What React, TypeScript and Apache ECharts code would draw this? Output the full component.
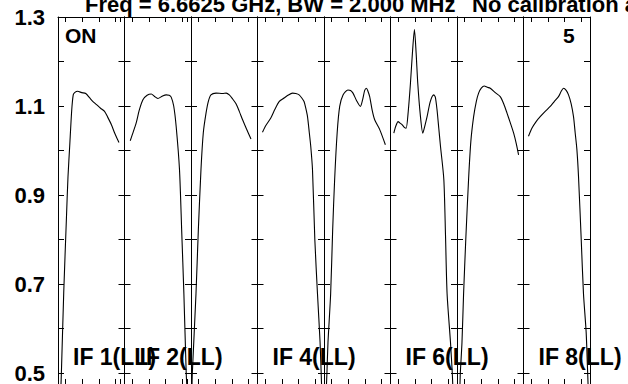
import React, { useEffect, useRef } from "react";
import * as echarts from "echarts";

// ---- data ----
const panelLabels = ["IF 1(LL)", "IF 2(LL)", "", "IF 4(LL)", "", "IF 6(LL)", "", "IF 8(LL)"];
const yTickValues = [0.5, 0.6, 0.7, 0.8, 0.9, 1.0, 1.1, 1.2, 1.3];
const yLabelValues = [0.5, 0.7, 0.9, 1.1, 1.3];
const xTickPct = [11.5, 36.5, 61.5, 86.5];
const xExtraTickPct = [94, 95, null, null, null, null, null, null];
const titleMain = "Freq = 6.6625 GHz, BW = 2.000 MHz";
const titleNote = "No calibration applied";
const cornerLeft = "ON";
const cornerRight = "5";

// channel position (% of panel) and amplitude for each IF
const if1Chan = [4.4, 5.1, 8.6, 12.6, 15, 17.6, 20.6, 22.9, 25, 29.6, 35.6, 41.7, 47.7, 52.6, 58, 64, 70, 74.7, 80.3, 85, 91.7];
const if1Amp = [0.47, 0.5, 0.68, 0.845, 0.94, 1.01, 1.09, 1.125, 1.13, 1.133, 1.13, 1.128, 1.118, 1.11, 1.103, 1.095, 1.088, 1.075, 1.058, 1.04, 1.018];
const if2Chan = [8.6, 11.6, 17.6, 22.1, 27.7, 34, 40.3, 44.8, 50.2, 56.7, 62.7, 67.2, 70.2, 74, 77.7, 82.7, 86, 89.3, 92.8, 93.8];
const if2Amp = [1.022, 1.035, 1.062, 1.09, 1.114, 1.124, 1.127, 1.122, 1.117, 1.122, 1.125, 1.124, 1.12, 1.1, 1.054, 0.957, 0.82, 0.678, 0.5, 0.47];
const if3Chan = [1.5, 2, 7.5, 11, 15, 18.5, 22.6, 26, 30, 37.6, 47.5, 53, 57.6, 62, 67.7, 72.6, 77.6, 83, 90.2];
const if3Amp = [0.47, 0.5, 0.678, 0.82, 0.957, 1.04, 1.084, 1.11, 1.125, 1.129, 1.128, 1.129, 1.125, 1.117, 1.105, 1.088, 1.069, 1.05, 1.026];
const if4Chan = [7.5, 12.5, 20, 26, 32.5, 40, 45.6, 52.6, 57.6, 62.6, 66.6, 70, 72.6, 75.2, 77.9, 80.1, 82.7, 86.2, 90.2, 94.1, 96.4];
const if4Amp = [1.041, 1.056, 1.073, 1.092, 1.11, 1.118, 1.124, 1.129, 1.128, 1.125, 1.118, 1.11, 1.095, 1.076, 1.04, 1.009, 0.957, 0.8, 0.678, 0.569, 0.47];
const if5Chan = [3.6, 4.4, 6, 10, 13, 16, 19.8, 23.6, 28.6, 36, 40, 43.6, 49, 54.7, 58.2, 61.2, 63.8, 65.7, 68.7, 72.5, 76.2, 83.8, 92.3];
const if5Amp = [0.47, 0.5, 0.569, 0.678, 0.82, 0.935, 1.04, 1.099, 1.125, 1.136, 1.135, 1.129, 1.112, 1.099, 1.115, 1.135, 1.14, 1.135, 1.121, 1.09, 1.069, 1.047, 1.013];
const if6Chan = [5, 8, 11.4, 14, 17.4, 20.8, 23.5, 26.8, 30, 33, 36, 38.5, 41, 44.8, 48.6, 51.6, 55, 59.8, 65, 67.4, 70, 72.6, 75.2, 80.2, 82.7, 85.1, 90.2, 92.9, 93.7];
const if6Amp = [1.039, 1.055, 1.065, 1.062, 1.058, 1.052, 1.05, 1.09, 1.151, 1.22, 1.272, 1.22, 1.151, 1.08, 1.039, 1.055, 1.076, 1.11, 1.125, 1.12, 1.091, 1.05, 1.009, 0.935, 0.81, 0.678, 0.569, 0.5, 0.47];
const if7Chan = [4.4, 5, 7.5, 9.9, 13.2, 17.4, 20.8, 25, 29, 32.5, 36.5, 41, 45.6, 50, 57.6, 65, 70.2, 75.2, 80.2, 85.2, 89.2, 92.6];
const if7Amp = [0.47, 0.5, 0.569, 0.678, 0.8, 0.935, 1.02, 1.076, 1.11, 1.129, 1.14, 1.145, 1.142, 1.14, 1.13, 1.121, 1.105, 1.084, 1.062, 1.039, 1.015, 0.99];
const if8Chan = [7.5, 12.6, 19, 25.1, 32.6, 40.2, 46.2, 52.6, 56.7, 60.2, 64.2, 67.7, 71.7, 75.2, 77.7, 80.3, 82.7, 86.8, 90.2, 94.2, 96.5, 97.2];
const if8Amp = [1.032, 1.05, 1.065, 1.076, 1.088, 1.099, 1.11, 1.121, 1.133, 1.14, 1.135, 1.125, 1.105, 1.076, 1.04, 1.002, 0.942, 0.8, 0.678, 0.592, 0.5, 0.47];

const chans = [if1Chan, if2Chan, if3Chan, if4Chan, if5Chan, if6Chan, if7Chan, if8Chan];
const amps = [if1Amp, if2Amp, if3Amp, if4Amp, if5Amp, if6Amp, if7Amp, if8Amp];

// ---- layout ----
const W = 628;
const H = 384;
const PLOT_LEFT = 58;
const PANEL_W = 66.5;
const PLOT_TOP = 17;
const PLOT_H = 368;
const Y_MAX = 1.3;
const Y_MIN = Y_MAX - PLOT_H / 446.25;
const FONT = "'Liberation Sans', Arial, Helvetica, sans-serif";

export default function App() {
  const ref = useRef<HTMLDivElement>(null);
  useEffect(() => {
    if (!ref.current) return;
    const chart = echarts.init(ref.current, null, { renderer: "svg", width: W, height: H });
    const grids: any[] = [];
    const xAxes: any[] = [];
    const yAxes: any[] = [];
    const series: any[] = [];
    const graphics: any[] = [];
    const axisLine = { show: true, onZero: false, lineStyle: { color: "#000", width: 1 } };
    for (let k = 0; k < 8; k++) {
      grids.push({ left: PLOT_LEFT + PANEL_W * k, top: PLOT_TOP, width: PANEL_W, height: PLOT_H });
      const xt = xExtraTickPct[k] != null ? [...xTickPct, xExtraTickPct[k]] : xTickPct;
      for (const pos of ["bottom", "top"]) {
        xAxes.push({
          type: "value", gridIndex: k, position: pos, min: 0, max: 100,
          axisLine,
          axisTick: { show: true, inside: true, length: 5, customValues: xt, lineStyle: { color: "#000" } },
          axisLabel: { show: false },
          splitLine: { show: false },
        });
      }
      for (const pos of ["left", "right"]) {
        const showLab = k === 0 && pos === "left";
        yAxes.push({
          type: "value", gridIndex: k, position: pos, min: Y_MIN, max: Y_MAX,
          axisLine,
          axisTick: { show: true, inside: true, length: 6, customValues: yTickValues, lineStyle: { color: "#000" } },
          axisLabel: {
            show: showLab, customValues: yLabelValues, margin: 13,
            color: "#000", fontSize: 22, fontWeight: "bold", fontFamily: FONT,
            formatter: (v: number) => v.toFixed(1),
          },
          splitLine: { show: false },
        });
      }
      series.push({
        type: "line", xAxisIndex: 2 * k, yAxisIndex: 2 * k,
        data: chans[k].map((c, i) => [c, amps[k][i]]),
        symbol: "none", smooth: 0.25, clip: true,
        lineStyle: { color: "#000", width: 1.1 },
      });
      if (panelLabels[k]) {
        graphics.push({
          type: "text", x: PLOT_LEFT + PANEL_W * k + 15, y: 357,
          style: { text: panelLabels[k], fill: "#000", font: `bold 23px ${FONT}`, verticalAlign: "middle" },
        });
      }
    }
    graphics.push(
      { type: "text", x: 85, y: 4, style: { text: titleMain, fill: "#000", font: `bold 22px ${FONT}`, verticalAlign: "middle" } },
      { type: "text", x: 472, y: 4, style: { text: titleNote, fill: "#000", font: `bold 22px ${FONT}`, verticalAlign: "middle" } },
      { type: "text", x: 65, y: 35, style: { text: cornerLeft, fill: "#000", font: `bold 21px ${FONT}`, verticalAlign: "middle" } },
      { type: "text", x: 563, y: 35, style: { text: cornerRight, fill: "#000", font: `bold 21px ${FONT}`, verticalAlign: "middle" } },
    );
    chart.setOption({
      animation: false,
      backgroundColor: "#fff",
      grid: grids,
      xAxis: xAxes,
      yAxis: yAxes,
      series,
      graphic: graphics,
    });
    return () => chart.dispose();
  }, []);
  return <div ref={ref} style={{ position: "fixed", left: 0, top: 0, width: W, height: H, background: "#fff" }} />;
}
